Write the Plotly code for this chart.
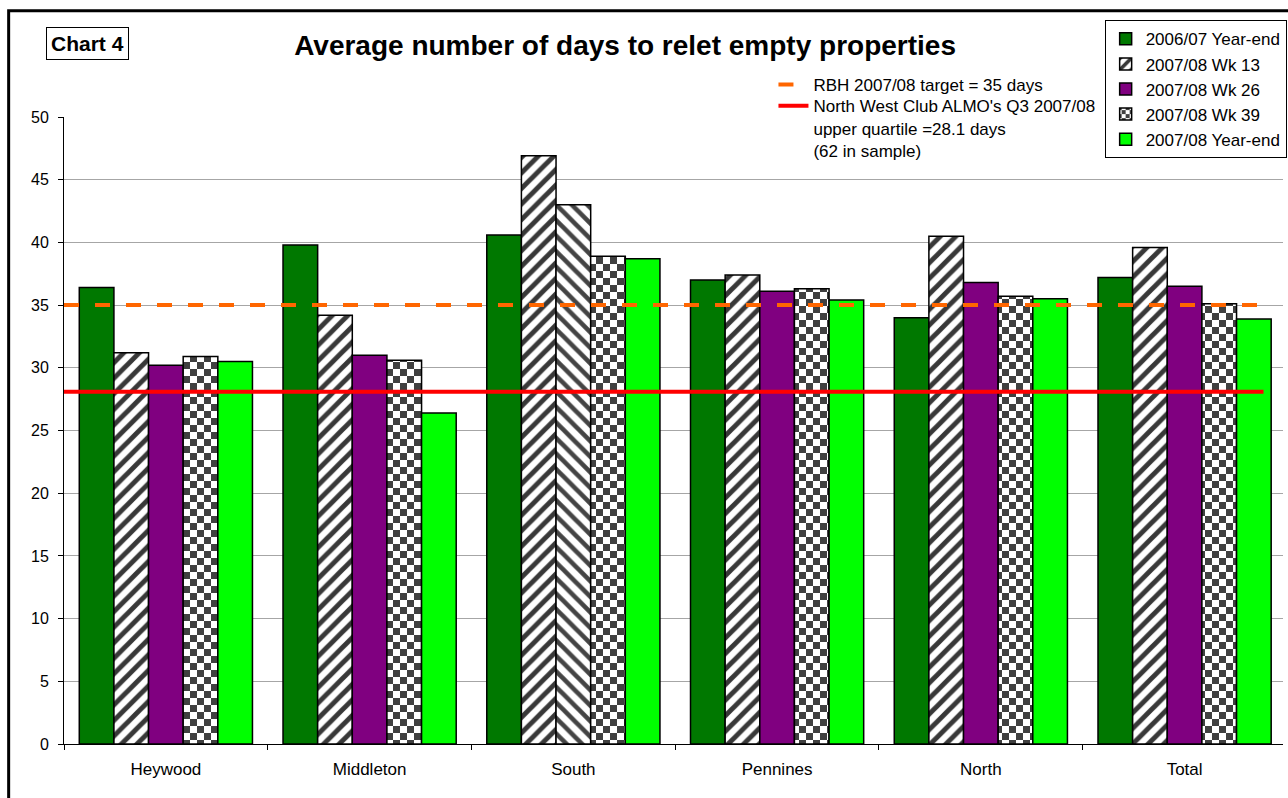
import plotly.graph_objects as go

# ---- data -------------------------------------------------------------
categories = ["Heywood", "Middleton", "South", "Pennines", "North", "Total"]

series_names = [
    "2006/07 Year-end",
    "2007/08 Wk 13",
    "2007/08 Wk 26",
    "2007/08 Wk 39",
    "2007/08 Year-end",
]
ye_2006_07 = [36.4, 39.8, 40.6, 37.0, 34.0, 37.2]
wk13_2007_08 = [31.2, 34.2, 46.9, 37.4, 40.5, 39.6]
wk26_2007_08 = [30.2, 31.0, 43.0, 36.1, 36.8, 36.5]
wk39_2007_08 = [30.9, 30.6, 38.9, 36.3, 35.7, 35.1]
ye_2007_08 = [30.5, 26.4, 38.7, 35.4, 35.5, 33.9]

target_days = 35
upper_quartile_days = 28.1
target_label = "RBH 2007/08 target = 35 days"
quartile_label = ("North West Club ALMO's Q3 2007/08<br>"
                  "upper quartile =28.1 days<br>(62 in sample)")

y_ticks = [0, 5, 10, 15, 20, 25, 30, 35, 40, 45, 50]

# ---- styling ----------------------------------------------------------
FONT = "Arial, 'Liberation Sans', sans-serif"
DARK_GREEN = "#007800"
PURPLE = "#800080"
LIME = "#00FF00"
HATCH = "#383838"
CHECK_KEY = "rgb(64,64,65)"   # placeholder colour, swapped for a checkerboard
OUTLINE = dict(color="black", width=1.5)

fig = go.Figure()

fig.add_bar(x=categories, y=ye_2006_07, name=series_names[0],
            marker=dict(color=DARK_GREEN, line=OUTLINE))

fig.add_bar(x=categories, y=wk13_2007_08, name=series_names[1],
            marker=dict(color="white", line=OUTLINE,
                        pattern=dict(shape="/", fgcolor=HATCH, bgcolor="white",
                                     fgopacity=1, size=11, solidity=0.45)))

# South's Wk 26 bar is shown hatched instead of solid purple
wk26_colors = ["white" if c == "South" else PURPLE for c in categories]
wk26_shapes = ["\\" if c == "South" else "" for c in categories]
fig.add_bar(x=categories, y=wk26_2007_08, name=series_names[2],
            marker=dict(color=wk26_colors, line=OUTLINE,
                        pattern=dict(shape=wk26_shapes, fgcolor=HATCH,
                                     fgopacity=1, size=11, solidity=0.42)))

fig.add_bar(x=categories, y=wk39_2007_08, name=series_names[3],
            marker=dict(color="white", line=OUTLINE,
                        pattern=dict(shape="+", fgcolor=CHECK_KEY, bgcolor="white",
                                     size=14, solidity=0.5)))

fig.add_bar(x=categories, y=ye_2007_08, name=series_names[4],
            marker=dict(color=LIME, line=OUTLINE))

# ---- reference lines (each listed in its own small legend) ------------
fig.add_shape(type="line", xref="x domain", yref="y",
              x0=0, x1=0.984, y0=target_days, y1=target_days,
              line=dict(color="#FF6600", width=4, dash="15px,16px"),
              showlegend=True, legend="legend2", name=target_label)
fig.add_shape(type="line", xref="x domain", yref="y",
              x0=0, x1=0.984, y0=upper_quartile_days, y1=upper_quartile_days,
              line=dict(color="#FF0000", width=4),
              showlegend=True, legend="legend3", name=quartile_label)

# outer frame of the chart
fig.add_shape(type="rect", xref="paper", yref="paper",
              x0=-0.0454, x1=1.02, y0=-0.11, y1=1.1694,
              line=dict(color="black", width=3), layer="above")

fig.add_annotation(text="<b>Chart 4</b>", xref="paper", yref="paper",
                   x=0.0192, y=1.1176, xanchor="center", yanchor="middle",
                   showarrow=False, font=dict(family=FONT, size=21, color="black"),
                   bordercolor="black", borderwidth=1, borderpad=4, bgcolor="white")

line_legend = dict(xanchor="left", yanchor="top", bgcolor="rgba(0,0,0,0)",
                   borderwidth=0, valign="top",
                   font=dict(family=FONT, size=17, color="black"))

fig.update_layout(
    width=1288, height=798,
    margin=dict(l=64, r=1, t=117, b=54),
    paper_bgcolor="white", plot_bgcolor="white",
    font=dict(family=FONT, color="black"),
    barmode="group", bargap=0.15, bargroupgap=0,
    title=dict(text="<b>Average number of days to relet empty properties</b>",
               x=0.4853, xanchor="center", xref="container",
               y=0.9436, yanchor="middle", yref="container",
               font=dict(family=FONT, size=28, color="black")),
    legend=dict(x=1.003, xanchor="right", y=1.1543, yanchor="top",
                bgcolor="white", bordercolor="black", borderwidth=1,
                font=dict(family=FONT, size=17, color="black"),
                traceorder="normal"),
    legend2=dict(line_legend, x=0.582, y=1.0799),
    legend3=dict(line_legend, x=0.582, y=1.0458),
    xaxis=dict(type="category", range=[-0.5, 5.483],
               tickson="boundaries", ticks="outside", ticklen=5,
               tickcolor="black", showline=True, linecolor="black", linewidth=1,
               showgrid=False, tickfont=dict(family=FONT, size=17),
               ticklabelstandoff=10),
    yaxis=dict(range=[0, 50], tickvals=y_ticks, ticks="outside", ticklen=5,
               tickcolor="black", showline=True, linecolor="black", linewidth=1,
               showgrid=True, gridcolor="#a6a6a6", gridwidth=1, zeroline=False,
               tickfont=dict(family=FONT, size=16), ticklabelstandoff=6),
)

# Paint the Wk 39 pattern tiles as a checkerboard
checker_js = """
(function(){
  var gd = document.getElementById('{plot_id}');
  function paint(){
    document.querySelectorAll('pattern').forEach(function(p){
      if (p.innerHTML.indexOf('64, 64, 65') < 0 && p.innerHTML.indexOf('64,64,65') < 0) return;
      var w = parseFloat(p.getAttribute('width')) || 14;
      var h = w / 2;
      p.innerHTML = '<rect width="' + w + '" height="' + w + '" fill="#ffffff"></rect>' +
        '<rect x="0" y="0" width="' + h + '" height="' + h + '" fill="#404040"></rect>' +
        '<rect x="' + h + '" y="' + h + '" width="' + h + '" height="' + h + '" fill="#404040"></rect>';
    });
  }
  paint();
  if (gd && gd.on) gd.on('plotly_afterplot', paint);
})();
"""

fig.write_html("out.html", post_script=checker_js)
